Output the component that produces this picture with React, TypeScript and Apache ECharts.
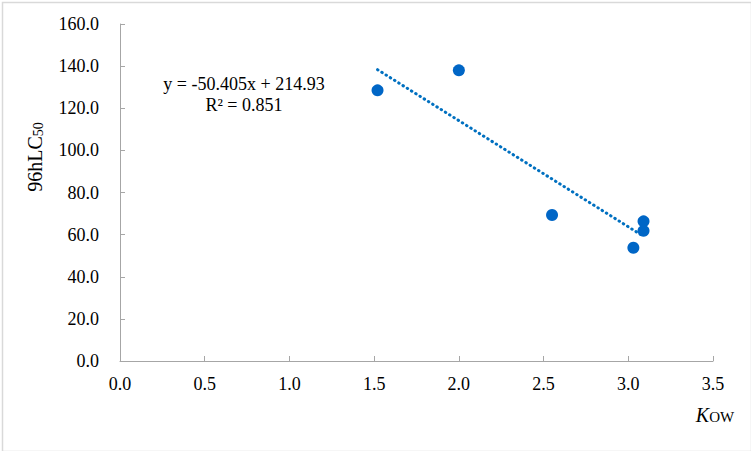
import React, { useEffect, useRef } from "react";
import * as echarts from "echarts";

const kow = [1.52, 2.0, 2.55, 3.03, 3.09, 3.09];
const lc50 = [128.5, 138.0, 69.3, 53.8, 66.3, 61.8];
const slope = -50.405;
const intercept = 214.93;
const trendX = [1.52, 3.09];
const equationText = "y = -50.405x + 214.93";
const r2Text = "R² = 0.851";

export default function App() {
  const ref = useRef<HTMLDivElement>(null);
  useEffect(() => {
    if (!ref.current) return;
    document.body.style.margin = "0";
    const chart = echarts.init(ref.current, undefined, { renderer: "svg" });
    const font = "Liberation Serif";
    const trend = trendX.map((x) => [x, slope * x + intercept]);
    chart.setOption({
      animation: false,
      backgroundColor: "#fff",
      textStyle: { fontFamily: font },
      grid: { left: 120, right: 38, top: 24, bottom: 90 },
      xAxis: {
        type: "value",
        min: 0,
        max: 3.5,
        interval: 0.5,
        axisLine: { show: true, lineStyle: { color: "#a6a6a6", width: 1 } },
        axisTick: { show: true, inside: true, length: 5, lineStyle: { color: "#a6a6a6" } },
        splitLine: { show: false },
        axisLabel: {
          fontFamily: font,
          fontSize: 18,
          color: "#000",
          margin: 14,
          formatter: (v: number) => v.toFixed(1),
        },
      },
      yAxis: {
        type: "value",
        min: 0,
        max: 160,
        interval: 20,
        axisLine: { show: true, lineStyle: { color: "#a6a6a6", width: 1 } },
        axisTick: { show: true, inside: true, length: 5, lineStyle: { color: "#a6a6a6" } },
        splitLine: { show: false },
        axisLabel: {
          fontFamily: font,
          fontSize: 18,
          color: "#000",
          margin: 21,
          formatter: (v: number) => v.toFixed(1),
        },
      },
      series: [
        {
          type: "line",
          data: trend,
          symbol: "none",
          lineStyle: { color: "#0070c0", width: 3, type: [0.5, 4.5], cap: "round" },
          silent: true,
          z: 1,
        },
        {
          type: "scatter",
          data: kow.map((x, i) => [x, lc50[i]]),
          symbol: "circle",
          symbolSize: 12,
          itemStyle: { color: "#0066c6", opacity: 1 },
          z: 2,
        },
      ],
      graphic: [
        {
          type: "rect",
          left: 0,
          top: 0,
          shape: { x: 0.5, y: 0.5, width: 749, height: 449 },
          style: { fill: "none", stroke: "#d9d9d9", lineWidth: 1.5 },
          silent: true,
        },
        {
          type: "text",
          x: 244,
          y: 84,
          style: {
            text: equationText,
            fontFamily: font,
            fontSize: 18,
            fill: "#000",
            align: "center",
            verticalAlign: "middle",
          },
        },
        {
          type: "text",
          x: 244,
          y: 105,
          style: {
            text: r2Text,
            fontFamily: font,
            fontSize: 18,
            fill: "#000",
            align: "center",
            verticalAlign: "middle",
          },
        },
        {
          type: "text",
          x: 35,
          y: 157,
          rotation: Math.PI / 2,
          style: {
            text: "{m|96hLC}{s|50}",
            align: "center",
            verticalAlign: "middle",
            rich: {
              m: { fontFamily: font, fontSize: 20, fill: "#000", color: "#000" },
              s: { fontFamily: font, fontSize: 14, fill: "#000", color: "#000", padding: [6, 0, 0, 0] },
            },
          },
        },
        {
          type: "text",
          x: 715,
          y: 415,
          style: {
            text: "{k|K}{o|OW}",
            align: "center",
            verticalAlign: "middle",
            rich: {
              k: { fontFamily: font, fontSize: 20, fontStyle: "italic", color: "#000" },
              o: { fontFamily: font, fontSize: 15, color: "#000", padding: [3, 0, 0, 0] },
            },
          },
        },
      ],
    });
    return () => chart.dispose();
  }, []);
  return <div ref={ref} style={{ width: 751, height: 451 }} />;
}
